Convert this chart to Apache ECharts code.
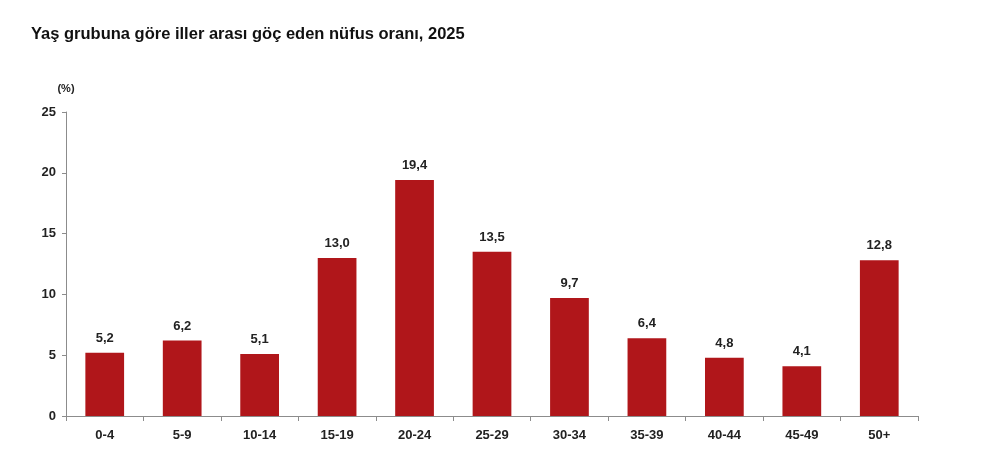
<!DOCTYPE html>
<html>
<head>
<meta charset="utf-8">
<script src="https://cdn.jsdelivr.net/npm/echarts@6/dist/echarts.min.js"></script>
<style>
  html, body { margin: 0; padding: 0; background: #fff; }
  #chart { width: 987px; height: 458px; }
</style>
</head>
<body>
<div id="chart"></div>
<script>
var titleText = 'Yaş grubuna göre iller arası göç eden nüfus oranı, 2025'
var ageGroups = ['0-4', '5-9', '10-14', '15-19', '20-24', '25-29', '30-34', '35-39', '40-44', '45-49', '50+']
var shares = [5.2, 6.2, 5.1, 13.0, 19.4, 13.5, 9.7, 6.4, 4.8, 4.1, 12.8]

var chart = echarts.init(document.getElementById('chart'))
var font = 'Arial, "Liberation Sans", sans-serif'

var option = {
  animation: false,
  backgroundColor: '#fff',
  title: {
    text: titleText,
    left: 26,
    top: 21,
    textStyle: { fontFamily: font, fontSize: 16.5, fontWeight: 'bold', color: '#111' }
  },
  grid: { left: 66, right: 69, top: 112, bottom: 42 },
  xAxis: {
    type: 'category',
    data: ageGroups,
    axisLine: { lineStyle: { color: '#8c8c8c' } },
    axisTick: { show: true, alignWithLabel: false, length: 5, lineStyle: { color: '#8c8c8c' } },
    axisLabel: { fontFamily: font, fontSize: 13, fontWeight: 'bold', color: '#222', margin: 13 }
  },
  yAxis: {
    type: 'value',
    min: 0,
    max: 25,
    interval: 5,
    name: '(%)',
    nameLocation: 'end',
    nameGap: 18,
    nameTextStyle: { fontFamily: font, fontSize: 11, fontWeight: 'bold', color: '#222', align: 'center' },
    axisLine: { show: true, lineStyle: { color: '#8c8c8c' } },
    axisTick: { show: true, length: 4, lineStyle: { color: '#8c8c8c' } },
    splitLine: { show: false },
    axisLabel: { fontFamily: font, fontSize: 13, fontWeight: 'bold', color: '#222', margin: 10 }
  },
  series: [
    {
      type: 'bar',
      data: shares,
      barWidth: '50%',
      itemStyle: { color: '#b0161a' },
      label: {
        show: true,
        position: 'top',
        distance: 8,
        fontFamily: font,
        fontSize: 13,
        fontWeight: 'bold',
        color: '#222',
        formatter: function (p) { return p.value.toFixed(1).replace('.', ',') }
      }
    }
  ]
}

chart.setOption(option)
</script>
</body>
</html>
